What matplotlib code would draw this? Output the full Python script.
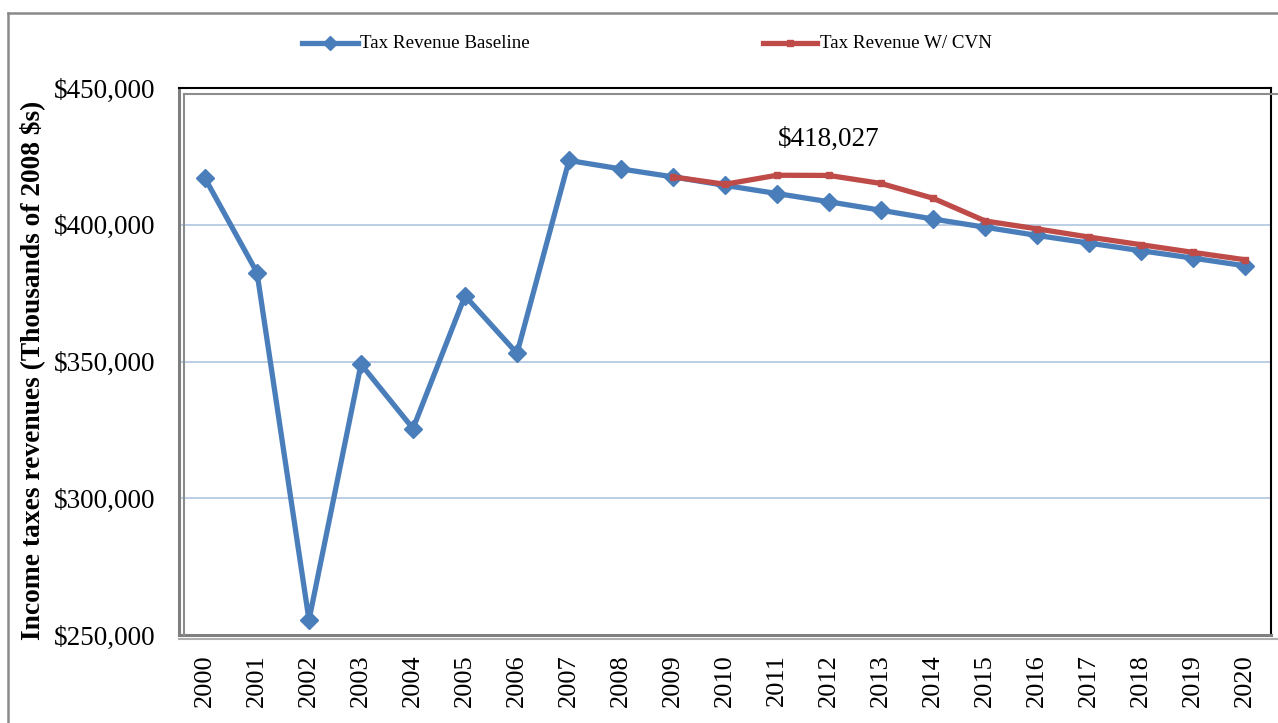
import matplotlib

matplotlib.use("Agg")
import matplotlib.pyplot as plt
from matplotlib.lines import Line2D
from matplotlib.ticker import FuncFormatter

plt.rcParams["font.family"] = ["Liberation Serif", "DejaVu Serif"]

years = list(range(2000, 2021))
baseline = [417000, 382500, 255500, 349000, 325500, 374000, 353000, 423500,
            420400, 417500, 414400, 411400, 408400, 405300, 402100, 399100,
            396100, 393300, 390500, 387800, 385000]
cvn_years = list(range(2009, 2021))
cvn = [417500, 414800, 418100, 418027, 415100, 409700, 401400, 398500,
       395500, 392700, 389900, 387200]
peak_year = 2012
peak_value = 418027

blue = "#4A7EBB"
red = "#BE4B48"
grid_color = "#A9C1DE"

W, H = 1278, 723
fig = plt.figure(figsize=(W / 100, H / 100), dpi=100)
ax = fig.add_axes([179 / W, 1 - 635 / H, (1271 - 179) / W, (635 - 88) / H])

x = [y - years[0] for y in years]
xc = [y - years[0] for y in cvn_years]
ax.plot(x, baseline, color=blue, lw=3.8, marker="D", ms=9, zorder=3)
ax.plot(xc, cvn, color=red, lw=3.8, marker="s", ms=4.5, zorder=4)

ax.set_xlim(-0.5, len(years) - 0.5)
ax.set_ylim(250000, 450000)
ax.set_yticks([250000, 300000, 350000, 400000, 450000])
ax.yaxis.set_major_formatter(FuncFormatter(lambda v, p: f"${v:,.0f}"))
ax.set_xticks(x)
ax.set_xticklabels([str(y) for y in years], rotation=90, va="top")
ax.tick_params(axis="y", length=0, pad=17, labelsize=19.5)
ax.tick_params(axis="x", length=0, pad=14, labelsize=19)

for v in [300000, 350000, 400000]:
    ax.axhline(v, color=grid_color, lw=1.1, zorder=1)

for side in ["top", "right"]:
    ax.spines[side].set_color("black")
    ax.spines[side].set_linewidth(1.5)
for side in ["left", "bottom"]:
    ax.spines[side].set_color("#7F7F7F")
    ax.spines[side].set_linewidth(2.2)

ax.annotate(f"${peak_value:,}", xy=(peak_year - years[0], peak_value),
            xytext=(0, 26), textcoords="offset points", ha="center",
            va="center", fontsize=19.5)

# frame shading around the plot area
gray = "#8C8C8C"
fig.add_artist(Line2D([184 / W, 1.0], [1 - 94 / H, 1 - 94 / H], color=gray, lw=1.5))
fig.add_artist(Line2D([184 / W, 184 / W], [1 - 94 / H, 1 - 635 / H], color=gray, lw=1.5))
fig.add_artist(Line2D([179 / W, 1.0], [1 - 639 / H, 1 - 639 / H], color="#B0B0B0", lw=1.5))

# outer chart border
fig.add_artist(Line2D([8 / W, 1.0], [1 - 13 / H, 1 - 13 / H], color="#8A8A8A", lw=1.8))
fig.add_artist(Line2D([8 / W, 8 / W], [0.0, 1 - 13 / H], color="#8A8A8A", lw=1.8))

# legend
ly = 1 - 43 / H
fig.add_artist(Line2D([302 / W, 358 / W], [ly, ly], color=blue, lw=3.8))
fig.add_artist(Line2D([330 / W], [ly], color=blue, marker="D", ms=7))
fig.text(360 / W, ly - 1 / H, "Tax Revenue Baseline", fontsize=13.7, va="center")
fig.add_artist(Line2D([763 / W, 817 / W], [ly, ly], color=red, lw=3.8))
fig.add_artist(Line2D([790 / W], [ly], color=red, marker="s", ms=4.5))
fig.text(820 / W, ly - 1 / H, "Tax Revenue W/ CVN", fontsize=13.7, va="center")

fig.text(32 / W, 1 - 370 / H, "Income taxes revenues (Thousands of 2008 $s)",
         rotation=90, ha="center", va="center", fontsize=19.8, fontweight="bold")

fig.savefig("out.png", dpi=100)
plt.close(fig)
